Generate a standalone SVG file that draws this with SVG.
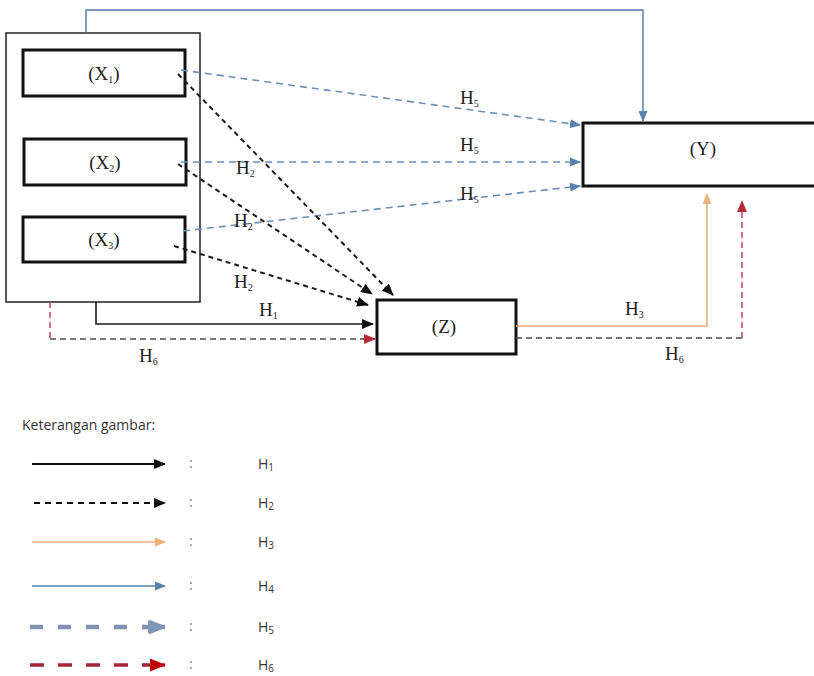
<svg xmlns="http://www.w3.org/2000/svg" width="814" height="676" viewBox="0 0 814 676">
  <style>
    .box { fill: #ffffff; stroke: #111111; stroke-width: 3; }
    .outer { fill: #ffffff; stroke: #222222; stroke-width: 1.5; }
    .lbl { font-family: "Liberation Serif", "Times New Roman", serif; font-size: 19px; fill: #222222; }
    .h { font-family: "Liberation Serif", "Times New Roman", serif; font-size: 19px; fill: #222222; }
    .sub { font-size: 10px; }
    .leg { font-family: "Open Sans", "Noto Sans", sans-serif; font-size: 14px; fill: #333333; }
    .col { font-family: "Open Sans", "Noto Sans", sans-serif; font-size: 14px; fill: #777777; }
    .blue5 { fill: none; stroke: #6F8EB6; stroke-width: 1.6; stroke-dasharray: 7 5; }
    .blk2 { fill: none; stroke: #1a1a1a; stroke-width: 2; stroke-dasharray: 5 4; }
    .blk1 { fill: none; stroke: #1a1a1a; stroke-width: 1.6; }
    .org3 { fill: none; stroke: #E9AE74; stroke-width: 1.6; }
    .blu4 { fill: none; stroke: #4E76A8; stroke-width: 1.4; }
    .gry6 { fill: none; stroke: #4a4a4a; stroke-width: 1.5; stroke-dasharray: 6 4; }
    .red6 { fill: none; stroke: #B5485A; stroke-width: 1.5; stroke-dasharray: 6 4; }
  </style>
  <defs>
    <marker id="aBlk" markerUnits="userSpaceOnUse" markerWidth="12" markerHeight="10" refX="11" refY="5" orient="auto">
      <path d="M0,0 L12,5 L0,10 Z" fill="#111111"/>
    </marker>
    <marker id="aBlu" markerUnits="userSpaceOnUse" markerWidth="11" markerHeight="9" refX="10" refY="4.5" orient="auto">
      <path d="M0,0 L11,4.5 L0,9 Z" fill="#5A80B0"/>
    </marker>
    <marker id="aOrg" markerUnits="userSpaceOnUse" markerWidth="11" markerHeight="9" refX="10" refY="4.5" orient="auto">
      <path d="M0,0 L11,4.5 L0,9 Z" fill="#EDB27C"/>
    </marker>
    <marker id="aRed" markerUnits="userSpaceOnUse" markerWidth="12" markerHeight="10" refX="11" refY="5" orient="auto">
      <path d="M0,0 L12,5 L0,10 Z" fill="#B52A3A"/>
    </marker>
    <marker id="aH5" markerUnits="userSpaceOnUse" markerWidth="18" markerHeight="14" refX="17" refY="7" orient="auto">
      <path d="M2,0 L17,6 Q18,7 17,8 L2,14 Q0,14 0,12 L0,2 Q0,0 2,0 Z" fill="#7F95B6"/>
    </marker>
    <marker id="aH6" markerUnits="userSpaceOnUse" markerWidth="16" markerHeight="13" refX="15" refY="6.5" orient="auto">
      <path d="M0,0 L16,6.5 L0,13 Z" fill="#C00000"/>
    </marker>
  </defs>

  <!-- outer grouping frame around the X variables -->
  <g id="frame-x">
    <rect class="outer" x="6" y="33" width="194" height="269"/>
  </g>

  <g id="node-x1">
    <rect class="box" x="23" y="50" width="162" height="46"/>
    <text class="lbl" x="104" y="80" text-anchor="middle">(X<tspan class="sub" dy="3">1</tspan><tspan dy="-3">)</tspan></text>
  </g>
  <g id="node-x2">
    <rect class="box" x="24" y="139" width="162" height="46"/>
    <text class="lbl" x="105" y="169" text-anchor="middle">(X<tspan class="sub" dy="3">2</tspan><tspan dy="-3">)</tspan></text>
  </g>
  <g id="node-x3">
    <rect class="box" x="23" y="217" width="162" height="45"/>
    <text class="lbl" x="104" y="246" text-anchor="middle">(X<tspan class="sub" dy="3">3</tspan><tspan dy="-3">)</tspan></text>
  </g>
  <g id="node-y">
    <rect class="box" x="583" y="123" width="240" height="63"/>
    <text class="lbl" x="703" y="155" text-anchor="middle">(Y)</text>
  </g>
  <g id="node-z">
    <rect class="box" x="377" y="300" width="139" height="54"/>
    <text class="lbl" x="444" y="333" text-anchor="middle">(Z)</text>
  </g>

  <g id="connectors">
    <!-- H4: X frame to Y -->
    <path class="blu4" d="M86,33 V10 H643 V121" marker-end="url(#aBlu)"/>
    <!-- H5: X to Y -->
    <path class="blue5" d="M181,70 L580,125" marker-end="url(#aBlu)"/>
    <path class="blue5" d="M181,162 L580,162" marker-end="url(#aBlu)"/>
    <path class="blue5" d="M183,231 L580,186" marker-end="url(#aBlu)"/>
    <!-- H2: X to Z -->
    <path class="blk2" d="M178,74 L393,295" marker-end="url(#aBlk)"/>
    <path class="blk2" d="M178,164 L372,294" marker-end="url(#aBlk)"/>
    <path class="blk2" d="M174,246 L368,305" marker-end="url(#aBlk)"/>
    <!-- H1: X frame to Z -->
    <path class="blk1" d="M96,302 V324 H373" marker-end="url(#aBlk)"/>
    <!-- H6: X frame to Z -->
    <path class="red6" d="M50,302 V339"/>
    <path class="gry6" d="M50,339 H375" marker-end="url(#aRed)"/>
    <!-- H3: Z to Y -->
    <path class="org3" d="M516,326 H707 V194" marker-end="url(#aOrg)"/>
    <!-- H6: Z to Y -->
    <path class="gry6" d="M516,338 H742"/>
    <path class="red6" d="M742,338 V201" marker-end="url(#aRed)"/>
  </g>

  <g id="edge-labels">
    <text class="h" x="460" y="104">H<tspan class="sub" dy="3">5</tspan></text>
    <text class="h" x="460" y="151">H<tspan class="sub" dy="3">5</tspan></text>
    <text class="h" x="460" y="200">H<tspan class="sub" dy="3">5</tspan></text>
    <text class="h" x="236" y="174">H<tspan class="sub" dy="3">2</tspan></text>
    <text class="h" x="234" y="227">H<tspan class="sub" dy="3">2</tspan></text>
    <text class="h" x="234" y="288">H<tspan class="sub" dy="3">2</tspan></text>
    <text class="h" x="259" y="316">H<tspan class="sub" dy="3">1</tspan></text>
    <text class="h" x="139" y="362">H<tspan class="sub" dy="3">6</tspan></text>
    <text class="h" x="625" y="315">H<tspan class="sub" dy="3">3</tspan></text>
    <text class="h" x="665" y="360">H<tspan class="sub" dy="3">6</tspan></text>
  </g>

  <!-- legend -->
  <g id="legend">
    <text class="leg" x="22" y="430">Keterangan gambar:</text>
    <path d="M32,464 H165" stroke="#111111" stroke-width="2" marker-end="url(#aBlk)"/>
    <path d="M34,503 H165" stroke="#111111" stroke-width="2" stroke-dasharray="6 5" marker-end="url(#aBlk)"/>
    <path d="M32,542 H165" stroke="#EDB27C" stroke-width="1.5" marker-end="url(#aOrg)"/>
    <path d="M32,586 H165" stroke="#5A7DAA" stroke-width="1.5" marker-end="url(#aBlu)"/>
    <path d="M30,627 H145" stroke="#8192B0" stroke-width="4.5" stroke-dasharray="13 15"/>
    <path d="M143,627 H165" stroke="#8192B0" stroke-width="4.5" marker-end="url(#aH5)"/>
    <path d="M30,665 H145" stroke="#A52535" stroke-width="3.5" stroke-dasharray="14 14"/>
    <path d="M143,665 H165" stroke="#A52535" stroke-width="3.5" marker-end="url(#aH6)"/>
    <text class="col" x="189" y="468">:</text>
    <text class="col" x="189" y="507">:</text>
    <text class="col" x="189" y="546">:</text>
    <text class="col" x="189" y="590">:</text>
    <text class="col" x="189" y="631">:</text>
    <text class="col" x="189" y="669">:</text>
    <text class="leg" x="258" y="469">H<tspan font-size="10" dy="2">1</tspan></text>
    <text class="leg" x="258" y="508">H<tspan font-size="10" dy="2">2</tspan></text>
    <text class="leg" x="258" y="547">H<tspan font-size="10" dy="2">3</tspan></text>
    <text class="leg" x="258" y="591">H<tspan font-size="10" dy="2">4</tspan></text>
    <text class="leg" x="258" y="632">H<tspan font-size="10" dy="2">5</tspan></text>
    <text class="leg" x="258" y="670">H<tspan font-size="10" dy="2">6</tspan></text>
  </g>
</svg>
